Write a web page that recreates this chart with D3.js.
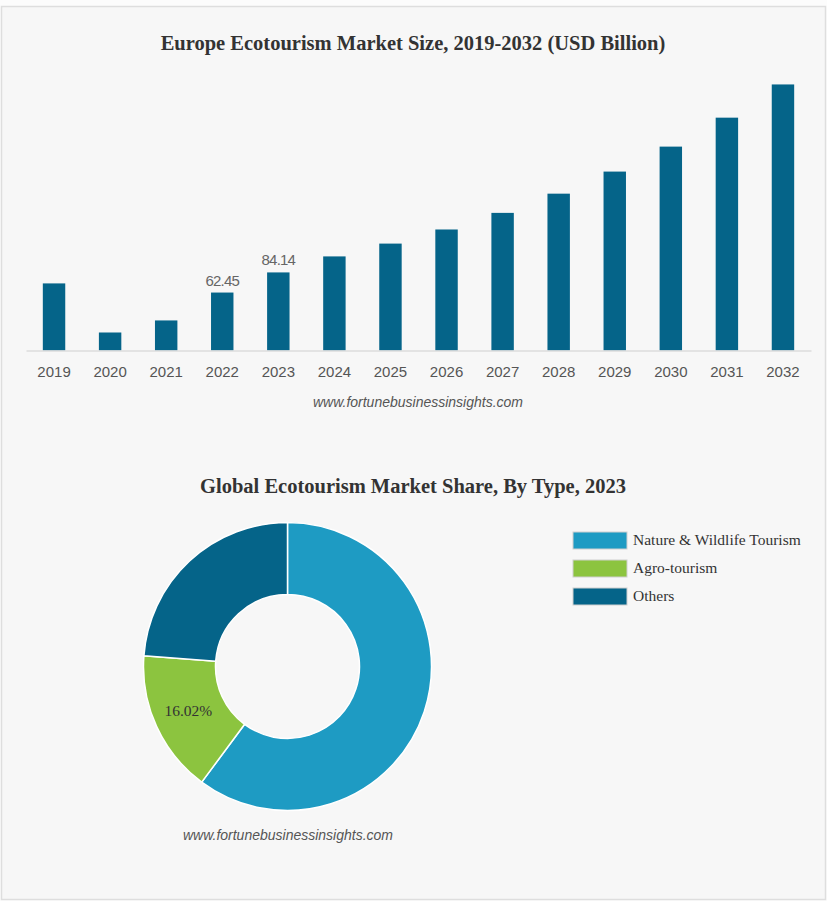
<!DOCTYPE html>
<html>
<head>
<meta charset="utf-8">
<script src="https://cdn.jsdelivr.net/npm/d3@7"></script>
<style>
  body { margin: 0; background: #fcfcfc; }
  .title { font-family: "Liberation Serif", "Times New Roman", serif; font-weight: bold; font-size: 20.5px; fill: #333; }
  .src { font-family: "Liberation Sans", Arial, sans-serif; font-style: italic; font-size: 14px; fill: #555; }
  .tick text { font-family: "Liberation Sans", Arial, sans-serif; font-size: 15px; fill: #555; }
  .barLabel { font-family: "Liberation Sans", Arial, sans-serif; font-size: 15px; letter-spacing: -0.8px; fill: #666; }
  .legendText, .pieLabel { font-family: "Liberation Serif", "Times New Roman", serif; font-size: 15.5px; fill: #333; }
</style>
</head>
<body>
<svg id="chart" width="827" height="901"></svg>
<script>
const width = 827;
const height = 901;

// bar chart data (USD Billion)
const years = ["2019", "2020", "2021", "2022", "2023", "2024", "2025", "2026", "2027", "2028", "2029", "2030", "2031", "2032"];
const marketSize = [72.3, 19.4, 32.4, 62.45, 84.14, 101.4, 115.2, 130.4, 148.3, 169.0, 192.8, 219.7, 250.9, 286.7];
const labelledYears = ["2022", "2023"];

// donut data (%)
const types = ["Nature & Wildlife Tourism", "Agro-tourism", "Others"];
const typeShare = [60.16, 16.02, 23.82];
const typeColors = ["#1e9bc3", "#8cc43f", "#056489"];
const labelledTypes = ["Agro-tourism"];

const svg = d3.select("#chart");

// panel background
svg
  .append("rect")
  .attr("x", 1.5)
  .attr("y", 6.5)
  .attr("width", 824)
  .attr("height", 893)
  .attr("fill", "#f7f7f7")
  .attr("stroke", "#dedede")
  .attr("stroke-width", 1.5);

// ---- bar chart ----
const baseY = 350.5;

const x = d3.scaleBand().domain(years).range([26, 811]).paddingInner(0.6).paddingOuter(0.3);
const y = d3.scaleLinear().domain([0, 100]).range([baseY, baseY - 92.8]);

svg
  .append("text")
  .attr("class", "title")
  .attr("text-anchor", "middle")
  .attr("x", 413)
  .attr("y", 50)
  .text("Europe Ecotourism Market Size, 2019-2032 (USD Billion)");

svg
  .append("g")
  .selectAll("rect")
  .data(years)
  .join("rect")
  .attr("x", (d) => x(d))
  .attr("width", x.bandwidth())
  .attr("y", (d, i) => y(marketSize[i]))
  .attr("height", (d, i) => baseY - y(marketSize[i]))
  .attr("fill", "#056489");

svg
  .append("g")
  .selectAll("text")
  .data(years.filter((d) => labelledYears.includes(d)))
  .join("text")
  .attr("class", "barLabel")
  .attr("text-anchor", "middle")
  .attr("x", (d) => x(d) + x.bandwidth() / 2)
  .attr("y", (d) => y(marketSize[years.indexOf(d)]) - 7)
  .text((d) => marketSize[years.indexOf(d)].toFixed(2));

const xAxis = svg
  .append("g")
  .attr("transform", `translate(0, ${baseY})`)
  .call(d3.axisBottom(x).tickSize(0).tickPadding(16));
xAxis.select(".domain").attr("stroke", "#dcdcdc").attr("stroke-width", 1.5);

svg
  .append("text")
  .attr("class", "src")
  .attr("text-anchor", "middle")
  .attr("x", 418)
  .attr("y", 407)
  .text("www.fortunebusinessinsights.com");

// ---- donut chart ----
svg
  .append("text")
  .attr("class", "title")
  .attr("text-anchor", "middle")
  .attr("x", 413)
  .attr("y", 493)
  .text("Global Ecotourism Market Share, By Type, 2023");

const cx = 287.5;
const cy = 666.5;
const outerR = 144;
const innerR = 72;

const pie = d3.pie().sort(null).value((d) => d.value);
const arcs = pie(types.map((t, i) => ({ type: t, value: typeShare[i] })));
const arc = d3.arc().innerRadius(innerR).outerRadius(outerR);

const donut = svg.append("g").attr("transform", `translate(${cx}, ${cy})`);

donut
  .selectAll("path")
  .data(arcs)
  .join("path")
  .attr("d", arc)
  .attr("fill", (d, i) => typeColors[i])
  .attr("stroke", "#ffffff")
  .attr("stroke-width", 1.5);

donut
  .selectAll("text")
  .data(arcs.filter((d) => labelledTypes.includes(d.data.type)))
  .join("text")
  .attr("class", "pieLabel")
  .attr("text-anchor", "middle")
  .attr("x", (d) => arc.centroid(d)[0] - 1)
  .attr("y", (d) => arc.centroid(d)[1] + 5)
  .text((d) => d.data.value.toFixed(2) + "%");

// legend
const legend = svg.append("g").attr("transform", "translate(573, 532)");
const rows = legend
  .selectAll("g")
  .data(types)
  .join("g")
  .attr("transform", (d, i) => `translate(0, ${i * 28})`);

rows
  .append("rect")
  .attr("width", 54)
  .attr("height", 17)
  .attr("fill", (d, i) => typeColors[i])
  .attr("stroke", "#cfcfcf")
  .attr("stroke-width", 1);

rows
  .append("text")
  .attr("class", "legendText")
  .attr("x", 60)
  .attr("y", 13)
  .text((d) => d);

svg
  .append("text")
  .attr("class", "src")
  .attr("text-anchor", "middle")
  .attr("x", 288)
  .attr("y", 840)
  .text("www.fortunebusinessinsights.com");
</script>
</body>
</html>
